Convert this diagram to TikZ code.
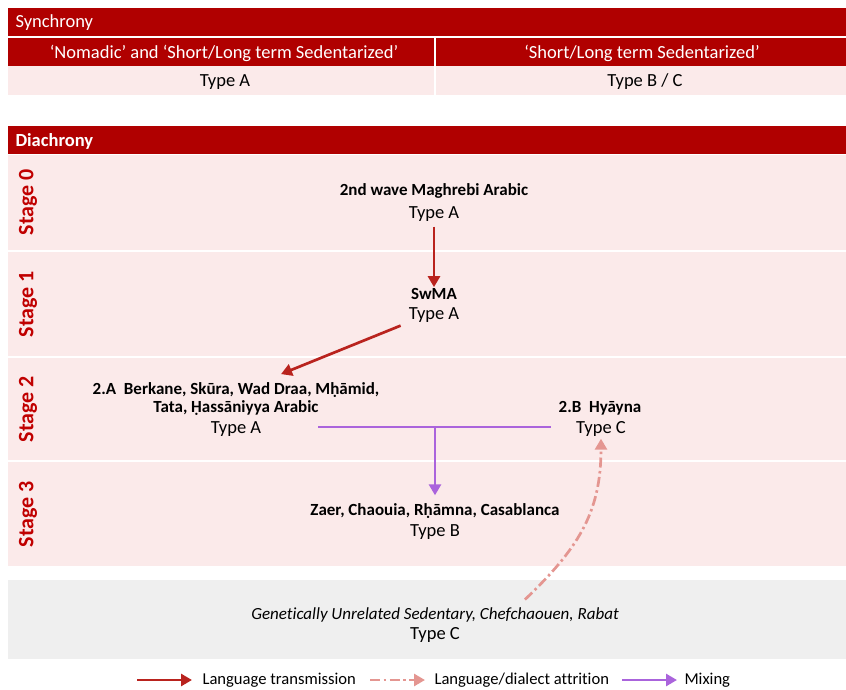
\documentclass[tikz,border=0pt]{standalone}
\usepackage{fontspec}
\setmainfont{Carlito}[Ligatures = {TeX, NoCommon}]
\usetikzlibrary{arrows.meta}
\definecolor{hdred}{RGB}{176,0,0}
\definecolor{rowpink}{RGB}{251,234,234}
\definecolor{boxgrey}{RGB}{239,239,239}
\definecolor{stagered}{RGB}{192,0,0}
\definecolor{transred}{RGB}{185,35,30}
\definecolor{attrpink}{RGB}{228,150,145}
\definecolor{mixpurple}{RGB}{170,100,220}
\begin{document}
\begin{tikzpicture}[x = 1pt, y = -1pt,
	hd/.style = {text = white, font = \fontsize{18.5}{21}\selectfont},
	stagelbl/.style = {text = stagered, rotate = 90, font = \fontsize{22}{24}\selectfont\bfseries},
	varname/.style = {font = \fontsize{17}{18.5}\selectfont\bfseries, align = center, inner sep = 1pt},
	typ/.style = {font = \fontsize{18.5}{21}\selectfont, inner sep = 1pt},
	leg/.style = {font = \fontsize{16.6}{19}\selectfont, anchor = west},
	trans/.style = {transred, line width = 2.7pt, -{Triangle[length = 11pt, width = 12pt]}},
	attr/.style = {attrpink, line width = 2.7pt, dash pattern = on 10pt off 3.5pt on 2.5pt off 3.5pt, -{Triangle[length = 11pt, width = 12pt]}},
	mix/.style = {mixpurple, line width = 2.7pt}
]
\useasboundingbox (0,0) rectangle (846,690);
% synchrony table
\fill[hdred] (8,8) rectangle (846,36);
\fill[hdred] (8,38) rectangle (846,66);
\fill[rowpink] (8,66) rectangle (846,95);
\draw[white, line width = 1.5pt] (435,38) to (435,95);
\node[hd, anchor = west] (sync) at (12,23) {Synchrony};
\node[hd] (nomad) at (224,53) {‘Nomadic’ and ‘Short/Long term Sedentarized’};
\node[hd] (sedent) at (642,53) {‘Short/Long term Sedentarized’};
\node[typ] (syncA) at (225,82) {Type A};
\node[typ] (syncBC) at (645,82) {Type B / C};
% diachrony
\fill[hdred] (8,126) rectangle (846,154);
\foreach \top/\bot in {155/250, 252/356, 358/460, 462/566} {
	\fill[rowpink] (8,\top) rectangle (846,\bot);
}
\fill[boxgrey] (8,580) rectangle (846,659);
\node[hd, anchor = west, font = \fontsize{18.5}{21}\selectfont\bfseries] (diach) at (12,141) {Diachrony};
\foreach \s/\y in {0/202, 1/304, 2/409, 3/514} {
	\node[stagelbl] (stage\s) at (28,\y) {Stage \s};
}
\node[varname] (wave) at (434,191) {2nd wave Maghrebi Arabic};
\node[typ] (waveT) at (434,214) {Type A};
\node[varname] (swma) at (434,294) {SwMA};
\node[typ] (swmaT) at (434,315) {Type A};
\node[varname] (twoA) at (236,399) {2.A\ \ Berkane, Skūra, Wad Draa, Mḥāmid,\\Tata, Ḥassāniyya Arabic};
\node[typ] (twoAT) at (236,429) {Type A};
\node[varname] (twoB) at (600,408) {2.B\ \ Hyāyna};
\node[typ] (twoBT) at (601,429) {Type C};
\node[varname] (zaer) at (435,511) {Zaer, Chaouia, Rḥāmna, Casablanca};
\node[typ] (zaerT) at (435,532) {Type B};
\node[varname, font = \fontsize{17}{19}\selectfont\itshape] (gen) at (435,615) {Genetically Unrelated Sedentary, Chefchaouen, Rabat};
\node[typ] (genT) at (435,635) {Type C};
% connectors
\draw[trans, shorten <= 4pt] (waveT) to (swma);
\draw[trans] ([xshift = -7pt, yshift = -2pt]swmaT.south west) to ([xshift = 45pt, yshift = 7pt]twoA.north);
\coordinate (mixJ) at (435,427);
\draw[mix] ([xshift = 56pt, yshift = 2pt]twoAT.east) to ([xshift = -24pt, yshift = 2pt]twoBT.west);
\draw[mix, -{Triangle[length = 11pt, width = 12pt]}] (mixJ) to ([yshift = 7pt]zaer.north);
\draw[attr] ([xshift = 90pt, yshift = 7pt]gen.north) .. controls +(52,-50) and +(0,75) .. ([yshift = -1pt]twoBT.south);
% legend
\coordinate (legA1) at (137,680);
\coordinate (legA2) at (192,680);
\coordinate (legB1) at (370,680);
\coordinate (legB2) at (425,680);
\coordinate (legC1) at (622,680);
\coordinate (legC2) at (677,680);
\draw[trans] (legA1) to (legA2);
\draw[attr] (legB1) to (legB2);
\draw[mix, -{Triangle[length = 11pt, width = 12pt]}] (legC1) to (legC2);
\node[leg] (legA) at (199,680) {Language transmission};
\node[leg] (legB) at (431,680) {Language/dialect attrition};
\node[leg] (legC) at (681,680) {Mixing};
\end{tikzpicture}
\end{document}
